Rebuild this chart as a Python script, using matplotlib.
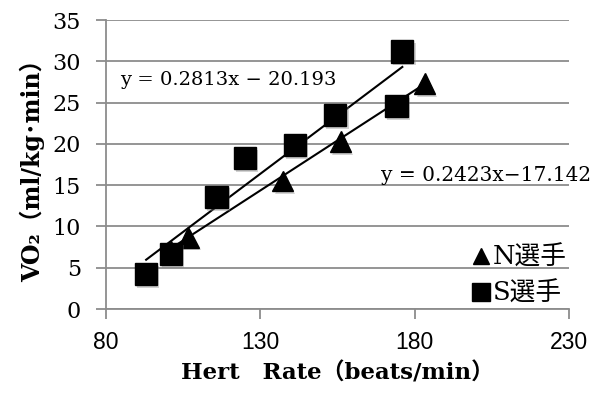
# VO2 vs heart rate, two athletes with linear trendlines

import numpy as np
import matplotlib
matplotlib.use("Agg")
import matplotlib.pyplot as plt
import matplotlib.patheffects as pe

# S選手 (squares)
s_hr = [93.0, 101.1, 115.8, 125.0, 141.2, 154.3, 174.1, 176.0]
s_vo2 = [4.2, 6.7, 13.6, 18.3, 19.9, 23.5, 24.6, 31.2]

# N選手 (triangles), first point hidden under a square
n_hr = [101.0, 106.7, 137.3, 156.0, 183.3]
n_vo2 = [7.0, 8.7, 15.5, 20.3, 27.3]

# trendline coefficients as printed on the chart
s_fit = (0.2813, -20.193)
n_fit = (0.2423, -17.142)

serif = ['DejaVu Serif', 'Noto Sans CJK JP']
grid_c = '#8c8c8c'

fig = plt.figure(figsize=(6.03, 3.98), dpi=100)
ax = fig.add_axes([0.1758, 0.2236, 0.7678, 0.7261])

ax.set_xlim(80, 230)
ax.set_ylim(0, 35)
ax.set_xticks([80, 130, 180, 230])
ax.set_yticks(np.arange(0, 36, 5))

ax.yaxis.grid(True, color=grid_c, linewidth=1.3)
ax.set_axisbelow(True)
for side in ['top', 'right']:
    ax.spines[side].set_visible(False)
for side in ['left', 'bottom']:
    ax.spines[side].set_color(grid_c)
    ax.spines[side].set_linewidth(1.3)
ax.tick_params(axis='both', color=grid_c, width=1.3, length=7, direction='out')
ax.tick_params(axis='x', labelsize=16.5, pad=9)
ax.tick_params(axis='y', labelsize=16, pad=11)
for lab in ax.get_xticklabels():
    lab.set_family('Liberation Sans')
for lab in ax.get_yticklabels():
    lab.set_family(serif)

# trendlines over each series' data range
xs = np.array([min(s_hr), max(s_hr)])
ax.plot(xs, s_fit[0] * xs + s_fit[1], color='black', linewidth=1.5, zorder=2)
xn = np.array([min(n_hr), max(n_hr)])
ax.plot(xn, n_fit[0] * xn + n_fit[1], color='black', linewidth=1.5, zorder=2)

shadow = [pe.SimplePatchShadow(offset=(1.5, -2), alpha=0.35, shadow_rgbFace='gray'), pe.Normal()]
ax.plot(n_hr, n_vo2, linestyle='none', marker='^', markersize=15, color='black',
        zorder=3, path_effects=shadow)
ax.plot(s_hr, s_vo2, linestyle='none', marker='s', markersize=16, color='black',
        zorder=4, path_effects=shadow)

ax.text(84.5, 27.7, 'y = 0.2813x − 20.193', fontsize=14, family=serif, va='center')
ax.text(169.1, 16.2, 'y = 0.2423x−17.142', fontsize=14.5, family=serif, va='center',
        clip_on=False)

# legend
h_n, = ax.plot([], [], linestyle='none', marker='^', markersize=11, color='black')
h_s, = ax.plot([], [], linestyle='none', marker='s', markersize=13, color='black')
ax.legend([h_n, h_s], ['N選手', 'S選手'], loc='lower right', bbox_to_anchor=(1.045, -0.07),
          frameon=False, handlelength=0.6, handletextpad=0.15, labelspacing=0.45,
          prop={'family': serif, 'size': 18.5})

ax.set_xlabel('Hert\u3000Rate（beats/min）', fontsize=16.5, fontweight='bold', family=serif,
              labelpad=6)
ax.set_ylabel('VO₂（ml/kg･min）', fontsize=17, fontweight='bold', family=serif, labelpad=5)

fig.savefig('out.png', dpi=100)
